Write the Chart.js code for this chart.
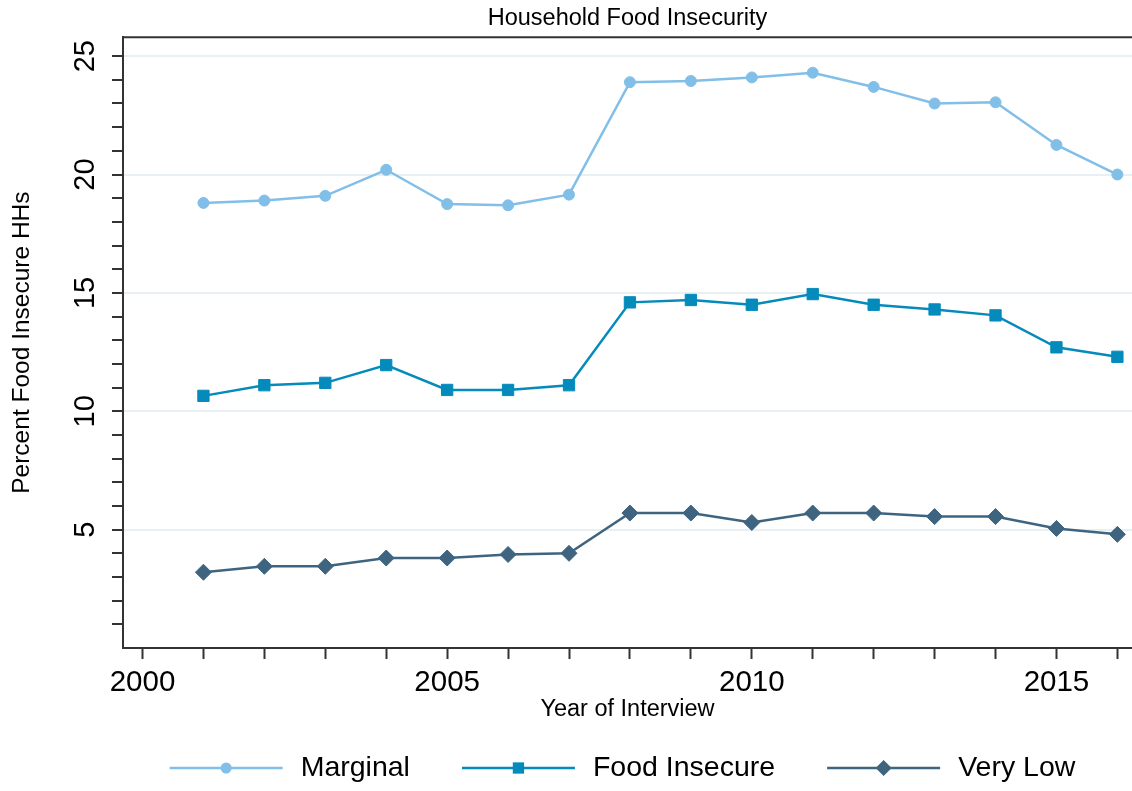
<!DOCTYPE html>
<html>
<head>
<meta charset="utf-8">
<title>Household Food Insecurity</title>
<script src="https://cdn.jsdelivr.net/npm/chart.js@4.4.0/dist/chart.umd.min.js"></script>
<style>
  html, body { margin: 0; padding: 0; background: #fff; }
  canvas { display: block; }
</style>
</head>
<body>
<canvas id="myChart" width="1132" height="791"></canvas>
<script>
// Data
var years = [2001, 2002, 2003, 2004, 2005, 2006, 2007, 2008, 2009, 2010, 2011, 2012, 2013, 2014, 2015, 2016];
var marginal = [18.8, 18.9, 19.1, 20.2, 18.75, 18.7, 19.15, 23.9, 23.95, 24.1, 24.3, 23.7, 23.0, 23.05, 21.25, 20.0];
var foodInsecure = [10.65, 11.1, 11.2, 11.95, 10.9, 10.9, 11.1, 14.6, 14.7, 14.5, 14.95, 14.5, 14.3, 14.05, 12.7, 12.3];
var veryLow = [3.2, 3.45, 3.45, 3.8, 3.8, 3.95, 4.0, 5.7, 5.7, 5.3, 5.7, 5.7, 5.55, 5.55, 5.05, 4.8];

// Tick positions and labels
var xTicks = [2000, 2001, 2002, 2003, 2004, 2005, 2006, 2007, 2008, 2009, 2010, 2011, 2012, 2013, 2014, 2015, 2016];
var xTickLabels = [2000, 2005, 2010, 2015];
var yTicks = [1, 2, 3, 4, 5, 6, 7, 8, 9, 10, 11, 12, 13, 14, 15, 16, 17, 18, 19, 20, 21, 22, 23, 24, 25];
var yTickLabels = [5, 10, 15, 20, 25];

var FONT = 'Arial, "Liberation Sans", sans-serif';
var AXIS = '#333333';

function toPoints(values) {
    return years.map(function(yr, i) { return {x: yr, y: values[i]}; });
}

// Draws the rotated y tick labels, the top frame line and the legend
var extrasPlugin = {
    id: 'extras',
    afterDraw: function(chart) {
        var ctx = chart.ctx;
        var area = chart.chartArea;
        var yScale = chart.scales.y;
        ctx.save();

        // top frame line
        ctx.strokeStyle = AXIS;
        ctx.lineWidth = 2;
        ctx.beginPath();
        ctx.moveTo(area.left - 1, area.top);
        ctx.lineTo(area.right, area.top);
        ctx.stroke();

        // y tick labels, rotated like Stata does
        ctx.fillStyle = '#000';
        ctx.font = '29px ' + FONT;
        ctx.textAlign = 'center';
        ctx.textBaseline = 'middle';
        yTickLabels.forEach(function(v) {
            var py = yScale.getPixelForValue(v);
            ctx.save();
            ctx.translate(86, py);
            ctx.rotate(-Math.PI / 2);
            ctx.fillText(String(v), 0, 0);
            ctx.restore();
        });

        // legend: line with marker, then label
        ctx.font = '28.5px ' + FONT;
        var lineLen = 113, gapText = 18, gapItem = 52;
        var items = chart.data.datasets.map(function(ds) {
            return {ds: ds, w: lineLen + gapText + ctx.measureText(ds.label).width};
        });
        var total = items.reduce(function(s, it) { return s + it.w; }, 0) + gapItem * (items.length - 1);
        var x = (area.left + area.right) / 2 - 5 - total / 2;
        var y = 768;
        items.forEach(function(it) {
            var ds = it.ds;
            ctx.strokeStyle = ds.borderColor;
            ctx.lineWidth = 2.5;
            ctx.beginPath();
            ctx.moveTo(x, y);
            ctx.lineTo(x + lineLen, y);
            ctx.stroke();
            var cx = x + lineLen / 2;
            var r = ds.pointRadius;
            ctx.fillStyle = ds.borderColor;
            ctx.beginPath();
            if (ds.pointStyle === 'circle') {
                ctx.arc(cx, y, r, 0, Math.PI * 2);
            } else if (ds.pointStyle === 'rect') {
                var h = r * Math.SQRT1_2;
                ctx.rect(cx - h, y - h, 2 * h, 2 * h);
            } else {
                ctx.moveTo(cx - r, y);
                ctx.lineTo(cx, y - r);
                ctx.lineTo(cx + r, y);
                ctx.lineTo(cx, y + r);
                ctx.closePath();
            }
            ctx.fill();
            ctx.fillStyle = '#000';
            ctx.textAlign = 'left';
            ctx.textBaseline = 'middle';
            ctx.fillText(ds.label, x + lineLen + gapText, y);
            x += it.w + gapItem;
        });

        ctx.restore();
    }
};

var ctx = document.getElementById('myChart').getContext('2d');

var myChart = new Chart(ctx, {
    type: 'line',
    data: {
        datasets: [
            {
                label: 'Marginal',
                data: toPoints(marginal),
                borderColor: '#82bfe8',
                backgroundColor: '#82bfe8',
                pointStyle: 'circle',
                pointRadius: 5.5,
                pointBorderWidth: 1,
                borderWidth: 2.5
            },
            {
                label: 'Food Insecure',
                data: toPoints(foodInsecure),
                borderColor: '#048bbc',
                backgroundColor: '#048bbc',
                pointStyle: 'rect',
                pointRadius: 8,
                pointBorderWidth: 1,
                borderWidth: 2.5
            },
            {
                label: 'Very Low',
                data: toPoints(veryLow),
                borderColor: '#3e6480',
                backgroundColor: '#3e6480',
                pointStyle: 'rectRot',
                pointRadius: 8,
                pointBorderWidth: 1,
                borderWidth: 2.5
            }
        ]
    },
    options: {
        responsive: false,
        animation: false,
        devicePixelRatio: 1,
        layout: {
            autoPadding: false,
            padding: {top: 0, left: 0, right: 0, bottom: 63}
        },
        elements: {
            line: {tension: 0, fill: false}
        },
        scales: {
            x: {
                type: 'linear',
                min: 1999.68,
                max: 2016.24,
                afterBuildTicks: function(scale) {
                    scale.ticks = xTicks.map(function(v) { return {value: v}; });
                },
                afterFit: function(scale) { scale.height = 80; },
                grid: {
                    drawOnChartArea: false,
                    drawTicks: true,
                    tickLength: 11,
                    tickWidth: 2,
                    tickColor: AXIS
                },
                border: {display: true, color: AXIS, width: 2},
                ticks: {
                    autoSkip: false,
                    maxRotation: 0,
                    minRotation: 0,
                    padding: 6,
                    color: '#000',
                    font: {family: FONT, size: 29.5},
                    callback: function(value) {
                        return xTickLabels.indexOf(value) >= 0 ? String(value) : '';
                    }
                },
                title: {
                    display: true,
                    text: 'Year of Interview',
                    color: '#000',
                    font: {family: FONT, size: 23.5},
                    padding: {top: 0, bottom: 4}
                }
            },
            y: {
                min: 0,
                max: 25.8,
                afterBuildTicks: function(scale) {
                    scale.ticks = yTicks.map(function(v) { return {value: v}; });
                },
                afterFit: function(scale) { scale.width = 123; },
                grid: {
                    drawOnChartArea: true,
                    drawTicks: true,
                    tickLength: 11,
                    tickWidth: 2,
                    lineWidth: 2,
                    tickColor: AXIS,
                    color: function(c) {
                        return c.tick && yTickLabels.indexOf(c.tick.value) >= 0 ? '#e8f0f3' : 'rgba(0,0,0,0)';
                    }
                },
                border: {display: true, color: AXIS, width: 2},
                ticks: {display: false},
                title: {
                    display: true,
                    text: 'Percent Food Insecure HHs',
                    color: '#000',
                    font: {family: FONT, size: 24.5},
                    padding: {top: 8, bottom: 0}
                }
            }
        },
        plugins: {
            legend: {display: false},
            tooltip: {enabled: false},
            title: {
                display: true,
                fullSize: false,
                text: 'Household Food Insecurity',
                color: '#000',
                font: {family: FONT, size: 23.5, weight: 'normal'},
                padding: {top: 4, bottom: 5}
            }
        }
    },
    plugins: [extrasPlugin]
});
</script>
</body>
</html>
